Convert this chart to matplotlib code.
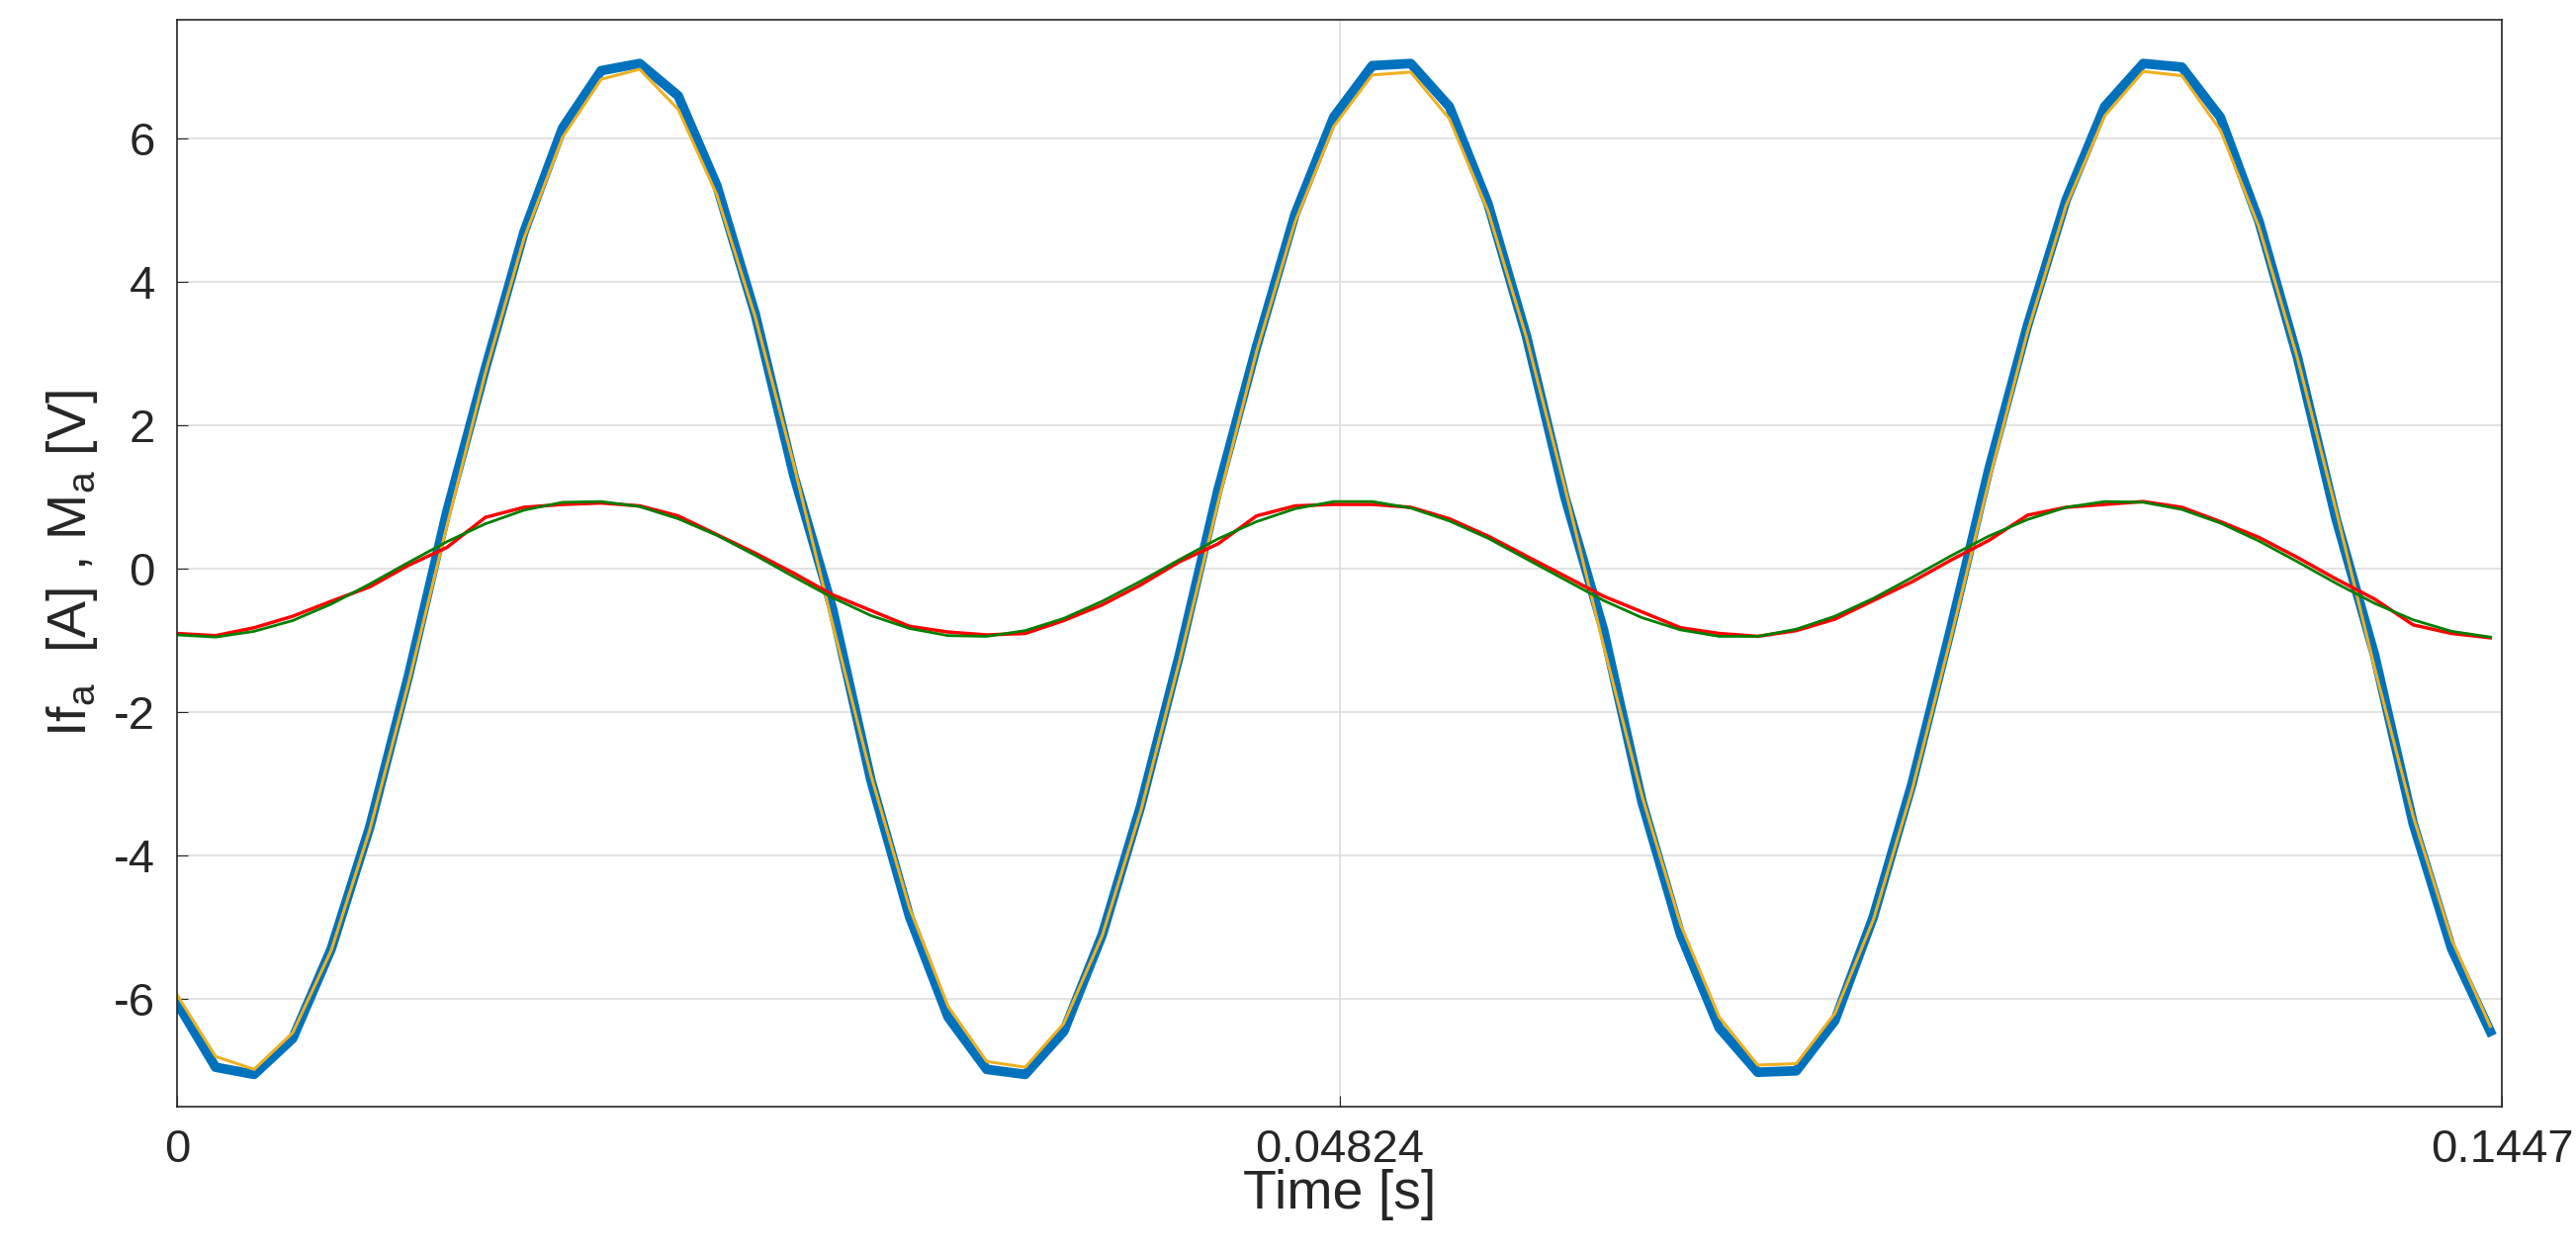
import numpy as np
import matplotlib
matplotlib.use("Agg")
import matplotlib.pyplot as plt

plt.rcParams['font.family'] = ['Liberation Sans', 'DejaVu Sans']
plt.rcParams['axes.unicode_minus'] = False

step = 0.0016
n = 61
time = [round(k * step, 4) for k in range(n)]

orange = [-5.94,-6.80,-6.98,-6.47,-5.32,-3.64,-1.60,0.60,2.74,4.61,6.02,6.83,6.97,6.41,5.22,3.51,1.45,-0.76,-2.88,-4.73,
          -6.10,-6.87,-6.95,-6.34,-5.11,-3.37,-1.29,0.92,3.03,4.84,6.17,6.89,6.93,6.28,5.00,3.23,1.13,-1.07,-3.17,-4.96,
          -6.25,-6.92,-6.90,-6.20,-4.89,-3.09,-0.98,1.23,3.31,5.07,6.32,6.94,6.88,6.12,4.77,2.94,0.82,-1.38,-3.45,-5.17,-6.38]
blue = [-6.05,-6.95,-7.05,-6.55,-5.30,-3.60,-1.50,0.80,2.80,4.70,6.15,6.95,7.05,6.60,5.35,3.55,1.30,-0.55,-2.95,-4.85,
        -6.25,-6.98,-7.05,-6.45,-5.10,-3.30,-1.20,1.10,3.10,4.95,6.30,7.02,7.05,6.45,5.10,3.25,1.00,-0.85,-3.25,-5.10,
        -6.40,-7.02,-7.00,-6.30,-4.85,-3.00,-0.85,1.40,3.40,5.15,6.45,7.05,7.00,6.30,4.85,2.95,0.70,-1.20,-3.55,-5.30,-6.45]
green = [-0.92,-0.95,-0.87,-0.72,-0.49,-0.21,0.09,0.38,0.63,0.82,0.93,0.94,0.87,0.70,0.47,0.19,-0.11,-0.40,-0.65,-0.83,
         -0.93,-0.94,-0.86,-0.69,-0.45,-0.17,0.13,0.42,0.66,0.84,0.94,0.94,0.85,0.67,0.43,0.14,-0.15,-0.44,-0.68,-0.85,
         -0.94,-0.94,-0.84,-0.66,-0.41,-0.12,0.18,0.46,0.69,0.86,0.94,0.93,0.83,0.64,0.39,0.10,-0.20,-0.48,-0.71,-0.87,-0.95]
red = [-0.90,-0.93,-0.82,-0.66,-0.45,-0.25,0.05,0.30,0.72,0.86,0.90,0.92,0.88,0.74,0.48,0.22,-0.06,-0.36,-0.58,-0.80,
       -0.88,-0.92,-0.90,-0.72,-0.50,-0.22,0.10,0.35,0.74,0.88,0.90,0.90,0.86,0.70,0.46,0.18,-0.10,-0.38,-0.60,-0.82,
       -0.90,-0.94,-0.86,-0.70,-0.44,-0.18,0.12,0.40,0.75,0.86,0.90,0.94,0.86,0.66,0.44,0.16,-0.14,-0.42,-0.78,-0.90,-0.96]

xtick_labels = ["0", "0.04824", "0.1447"]

fig = plt.figure(figsize=(26.05, 12.69), dpi=100)
ax = fig.add_axes([179/2605, 1 - 1119/1269, (2530-179)/2605, (1119-20)/1269])
ax.plot(time, blue, color="#0072BD", lw=7, solid_joinstyle="round")
ax.plot(time, orange, color="#EDB120", lw=2.2, solid_joinstyle="round")
ax.plot(time, red, color="#FF0000", lw=2.5, solid_joinstyle="round")
ax.plot(time, green, color="#008000", lw=2.0, solid_joinstyle="round")
ax.set_xlim(0, 0.09648)
ax.set_ylim(-7.5, 7.66)
ax.set_xticks([0, 0.04824, 0.09648])
ax.set_xticklabels(xtick_labels)
ax.set_yticks([-6, -4, -2, 0, 2, 4, 6])
ax.grid(True, color="#DDDDDD", lw=1.2)
ax.tick_params(labelsize=34, direction="in", length=8, pad=16, colors="#262626")
ax.set_xlabel("Time [s]", fontsize=40, color="#262626", labelpad=-2)
ax.set_ylabel("If$_\\mathregular{a}$  [A] , M$_\\mathregular{a}$ [V]", fontsize=40, color="#262626", labelpad=10)
for s in ax.spines.values():
    s.set_color("#262626")
    s.set_linewidth(1.2)
fig.savefig("out.png", dpi=100)
